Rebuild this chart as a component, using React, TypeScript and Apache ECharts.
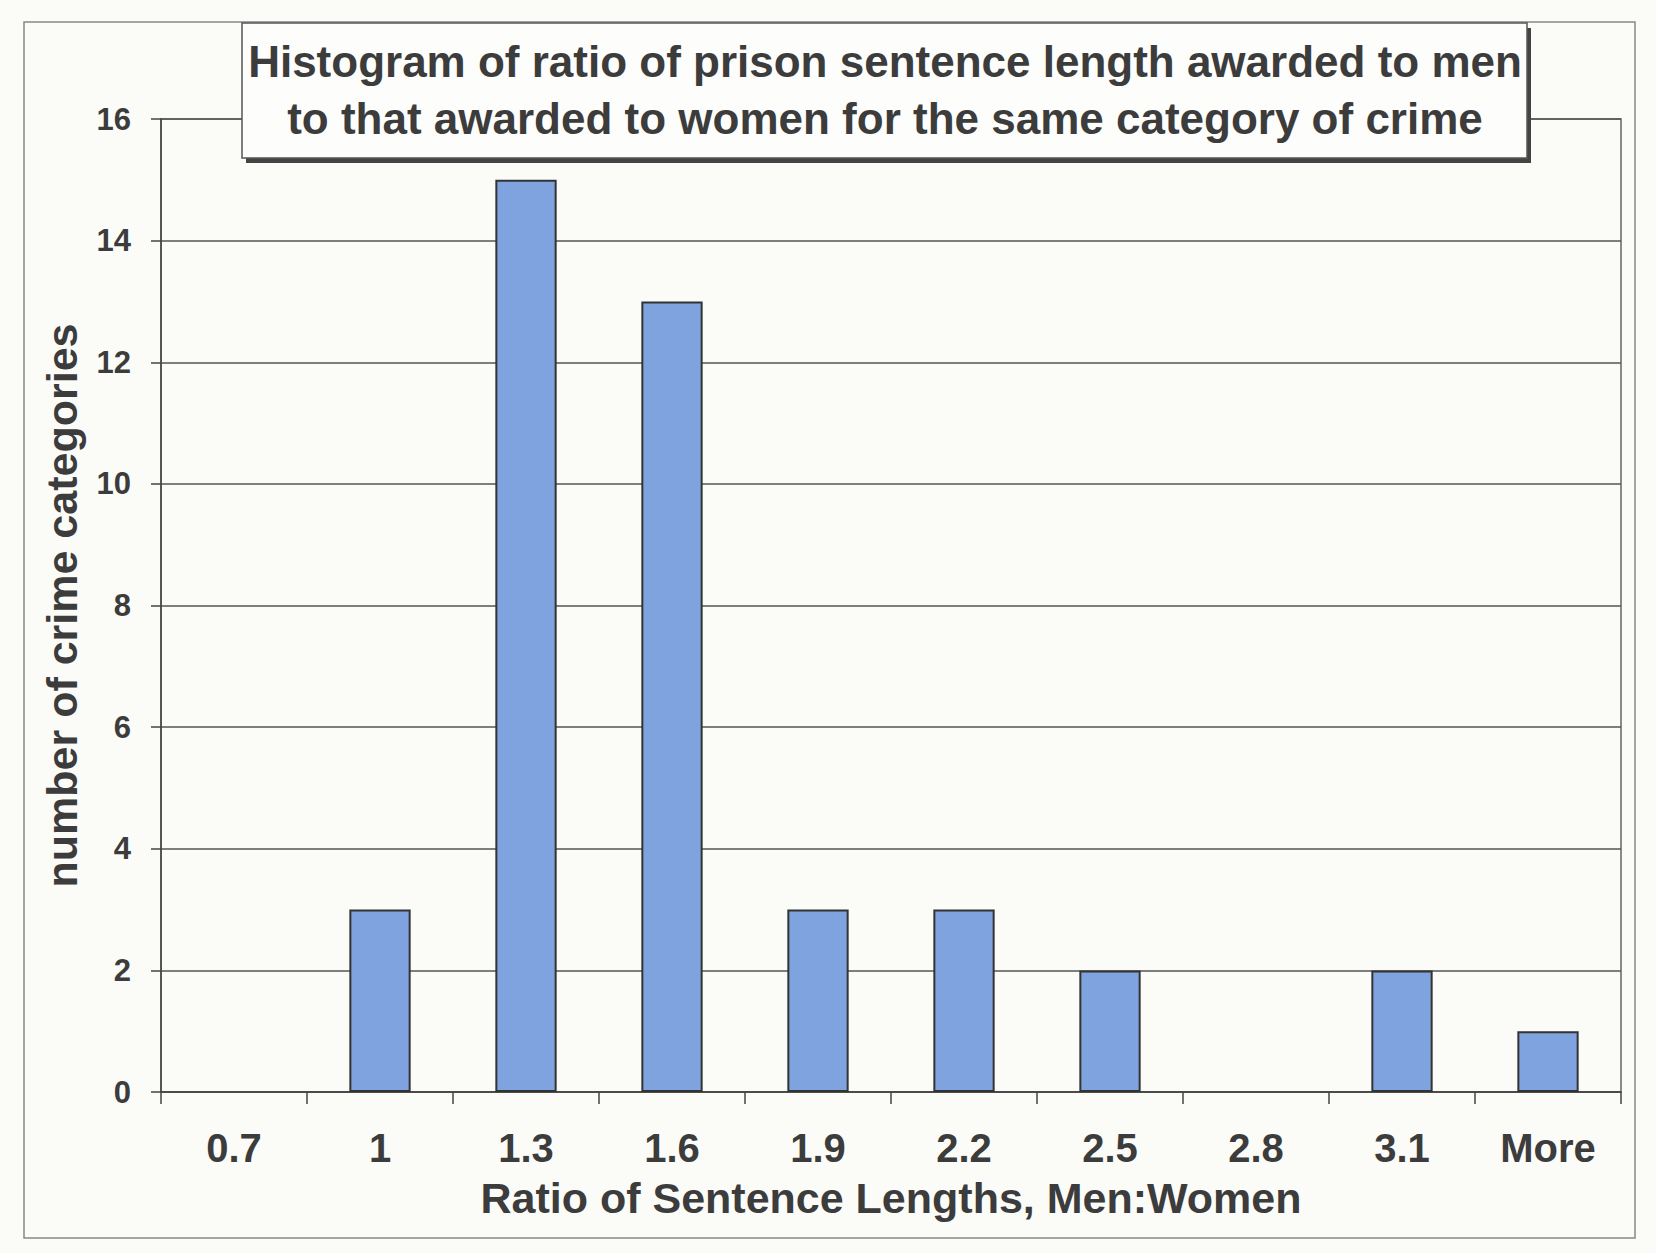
import React, { useEffect, useRef } from "react";
import * as echarts from "echarts";

const categories = ["0.7", "1", "1.3", "1.6", "1.9", "2.2", "2.5", "2.8", "3.1", "More"];
const counts = [0, 3, 15, 13, 3, 3, 2, 0, 2, 1];
const titleLines = [
  "Histogram of ratio of prison sentence length awarded to men",
  "to that awarded to women for the same category of crime",
];
const xAxisName = "Ratio of Sentence Lengths, Men:Women";
const yAxisName = "number of crime categories";

const W = 1656;
const H = 1253;
const FONT = "'Liberation Sans', Arial, sans-serif";
const INK = "#3c3c3c";

export default function App() {
  const ref = useRef<HTMLDivElement>(null);
  useEffect(() => {
    if (!ref.current) return;
    const chart = echarts.init(ref.current, undefined, { renderer: "svg" });
    chart.setOption({
      animation: false,
      backgroundColor: "#fbfbf8",
      textStyle: { fontFamily: FONT },
      grid: { left: 161, right: 35, top: 119, bottom: 161, show: true, borderColor: "#666", borderWidth: 1.5, backgroundColor: "transparent" },
      xAxis: {
        type: "category",
        data: categories,
        boundaryGap: true,
        name: xAxisName,
        nameLocation: "middle",
        nameGap: 84,
        nameTextStyle: { fontFamily: FONT, fontWeight: "bold", fontSize: 43, color: INK },
        axisLine: { lineStyle: { color: "#444", width: 1.5 } },
        axisTick: { show: true, length: 12, alignWithLabel: false, lineStyle: { color: "#444", width: 1.5 } },
        axisLabel: { interval: 0, margin: 36, fontFamily: FONT, fontWeight: "bold", fontSize: 40, color: INK },
        splitLine: { show: false },
      },
      yAxis: {
        type: "value",
        min: 0,
        max: 16,
        interval: 2,
        name: yAxisName,
        nameLocation: "middle",
        nameGap: 78,
        nameTextStyle: { fontFamily: FONT, fontWeight: "bold", fontSize: 43, color: INK },
        axisLine: { show: true, lineStyle: { color: "#444", width: 1.5 } },
        axisTick: { show: true, length: 10, lineStyle: { color: "#444", width: 1.5 } },
        axisLabel: { margin: 30, fontFamily: FONT, fontWeight: "bold", fontSize: 31, color: INK },
        splitLine: { show: true, lineStyle: { color: "#555", width: 1.5 } },
      },
      series: [
        {
          type: "bar",
          data: counts.map((v) => (v === 0 ? null : v)),
          barWidth: "42%",
          itemStyle: { color: "#7fa3df", borderColor: "#333", borderWidth: 2 },
        },
      ],
      graphic: [
        {
          type: "rect",
          shape: { x: 24, y: 22, width: 1611, height: 1216 },
          style: { fill: "none", stroke: "#888", lineWidth: 1.5 },
          silent: true,
        },
        {
          type: "rect",
          shape: { x: 246, y: 28, width: 1285, height: 135 },
          style: { fill: "#444", stroke: "none" },
          z: 100,
        },
        {
          type: "rect",
          shape: { x: 242, y: 23, width: 1285, height: 135 },
          style: { fill: "#fdfdfb", stroke: "#555", lineWidth: 1.5 },
          z: 101,
        },
        {
          type: "text",
          x: 885,
          y: 61,
          z: 102,
          style: {
            text: titleLines[0],
            fontFamily: FONT,
            fontWeight: "bold",
            fontSize: 44,
            fill: INK,
            textAlign: "center",
            textVerticalAlign: "middle",
          },
        },
        {
          type: "text",
          x: 885,
          y: 118,
          z: 102,
          style: {
            text: titleLines[1],
            fontFamily: FONT,
            fontWeight: "bold",
            fontSize: 44,
            fill: INK,
            textAlign: "center",
            textVerticalAlign: "middle",
          },
        },
      ],
    });
    return () => chart.dispose();
  }, []);
  return (
    <div style={{ position: "fixed", left: 0, top: 0, width: W, height: H, background: "#fbfbf8" }}>
      <div ref={ref} style={{ width: W, height: H }} />
    </div>
  );
}
